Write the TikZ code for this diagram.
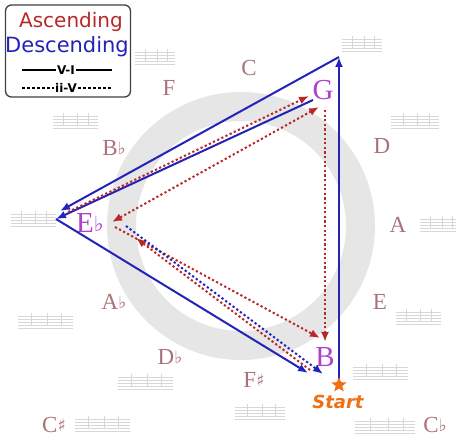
\documentclass[tikz,border=0pt]{standalone}
\usepackage{fontspec}
\setmainfont{Liberation Serif}
\newfontfamily\legfont{DejaVu Sans}
\usetikzlibrary{arrows.meta,shapes.geometric}
\definecolor{asc}{RGB}{185,40,40}
\definecolor{desc}{RGB}{35,35,185}
\definecolor{keyc}{RGB}{170,115,120}
\definecolor{tonic}{RGB}{175,65,205}
\definecolor{startc}{RGB}{240,110,20}
\definecolor{ringc}{RGB}{230,230,230}
\definecolor{staffc}{RGB}{215,215,215}
\tikzset{
  keylbl/.style={text=keyc, font=\fontsize{23}{23}\selectfont, inner sep=0pt},
  tonlbl/.style={text=tonic, font=\fontsize{29}{29}\selectfont, inner sep=0pt},
  descline/.style={draw=desc, line width=2pt, -{Latex[length=10pt,width=8pt]}},
  ascdot/.style={draw=asc, line width=2pt, dash pattern=on 2.2pt off 2.4pt, -{Latex[length=10pt,width=8pt]}},
  descdot/.style={draw=desc, line width=2pt, dash pattern=on 2.2pt off 2.4pt, -{Latex[length=10pt,width=8pt]}},
}
\newcommand{\fl}{{\legfont\fontsize{17}{17}\selectfont\raisebox{1pt}{♭}}}
\newcommand{\shp}{{\legfont\fontsize{17}{17}\selectfont\raisebox{1pt}{♯}}}
\newcommand{\staff}[3]{%
  \begin{scope}[shift={(#1,#2)}]
    \foreach \k in {-6,-3,0,3,6} {\draw[staffc, line width=0.5pt] (-#3/2,\k) -- (#3/2,\k);}
    \foreach \k in {-0.25,0.05,0.3} {\draw[staffc, line width=1pt] (\k*#3,-9) -- (\k*#3,3);}
  \end{scope}}
\begin{document}
\begin{tikzpicture}[x=1pt,y=-1pt]
\useasboundingbox (0,0) rectangle (456,441);
% ring
\fill[ringc, even odd rule] (241,226) circle (134pt) (241,226) circle (105pt);
% faint staffs
\staff{155}{58}{40}
\staff{362}{45}{40}
\staff{415}{122}{48}
\staff{440}{225}{40}
\staff{418}{318}{45}
\staff{380}{373}{55}
\staff{385}{427}{60}
\staff{260}{413}{50}
\staff{145}{383}{55}
\staff{102}{425}{55}
\staff{45}{322}{55}
\staff{33}{220}{45}
\staff{75}{122}{45}
% key letters
\node[keylbl] (kC) at (249,68) {C};
\node[keylbl] (kD) at (382,146) {D};
\node[keylbl] (kA) at (398,225) {A};
\node[keylbl] (kE) at (380,302) {E};
\node[keylbl] (kFs) at (254,380) {F\shp};
\node[keylbl] (kCb) at (435,425) {C\fl};
\node[keylbl] (kCs) at (54,425) {C\shp};
\node[keylbl] (kDb) at (170,357) {D\fl};
\node[keylbl] (kAb) at (114,302) {A\fl};
\node[keylbl] (kBb) at (114,148) {B\fl};
\node[keylbl] (kF) at (169,88) {F};
% tonal centres
\node[tonlbl] (tG) at (323,90) {G};
\node[tonlbl] (tEb) at (90,223) {E{\legfont\fontsize{21}{21}\selectfont\raisebox{1pt}{♭}}};
\node[tonlbl] (tB) at (325,357) {B};
% anchor points
\coordinate (S) at (339,385);
\coordinate (Gout) at (339,57);
\coordinate (Ea) at (60,211);
\coordinate (Eb) at (56,219);
\coordinate (Gb) at (313,100);
\coordinate (Gi1) at (309,96);
\coordinate (Gi2) at (319,107);
\coordinate (Gv) at (325,110);
\coordinate (Ei1) at (112,222);
\coordinate (Ei2) at (136,238);
\coordinate (Ei3) at (126,226);
\coordinate (Ei4) at (68,212);
\coordinate (Ei5) at (115,227);
\coordinate (Bi1) at (325,342);
\coordinate (Bi2) at (323,374);
\coordinate (Bi3) at (308,373);
\coordinate (Bi4) at (310,370);
\coordinate (Bi5) at (320,338);
% descending (blue, solid)
\draw[descline] (S) -- (Gout);
\draw[descline] (Gout) -- (Ea);
\draw[descline] (Gb) -- (Eb);
\draw[descline] (Eb) -- (Bi3);
% ascending (red, dotted)
\draw[ascdot] (Ei4) -- (Gi1);
\draw[ascdot, {Latex[length=10pt,width=8pt]}-{Latex[length=10pt,width=8pt]}] (Gi2) -- (Ei1);
\draw[ascdot] (Gv) -- (Bi1);
\draw[ascdot] (Bi4) -- (Ei2);
\draw[ascdot] (Ei5) -- (Bi5);
% descending dotted
\draw[descdot] (Ei3) -- (Bi2);
% start
\node[star, star points=5, star point ratio=2.3, fill=startc, minimum size=16pt, inner sep=0pt] (star) at (S) {};
\node[text=startc, font=\legfont\bfseries\itshape\fontsize{18}{18}\selectfont] (start) at (338,402) {Start};
% legend
\node[draw=black!75, line width=1.3pt, rounded corners=6pt, minimum width=125pt, minimum height=92pt, fill=white] (legend) at (68,51) {};
\node[text=asc, font=\legfont\fontsize{20}{20}\selectfont, inner sep=0pt] (asctxt) at (71,22) {Ascending};
\node[text=desc, font=\legfont\fontsize{21}{21}\selectfont, inner sep=0pt] (desctxt) at (67,47) {Descending};
\node[font=\legfont\bfseries\fontsize{12}{12}\selectfont, inner sep=1pt] (vi) at (66,70) {V-I};
\node[font=\legfont\bfseries\fontsize{12}{12}\selectfont, inner sep=1pt] (iiv) at (66,88) {ii-V};
\coordinate (v1) at (22,70); \coordinate (v2) at (112,70);
\coordinate (w1) at (22,88); \coordinate (w2) at (112,88);
\draw[line width=1.1pt] (v1) -- (vi.west) (vi.east) -- (v2);
\draw[line width=1.1pt, dash pattern=on 3pt off 2pt] (w1) -- (iiv.west) (iiv.east) -- (w2);
\end{tikzpicture}
\end{document}
